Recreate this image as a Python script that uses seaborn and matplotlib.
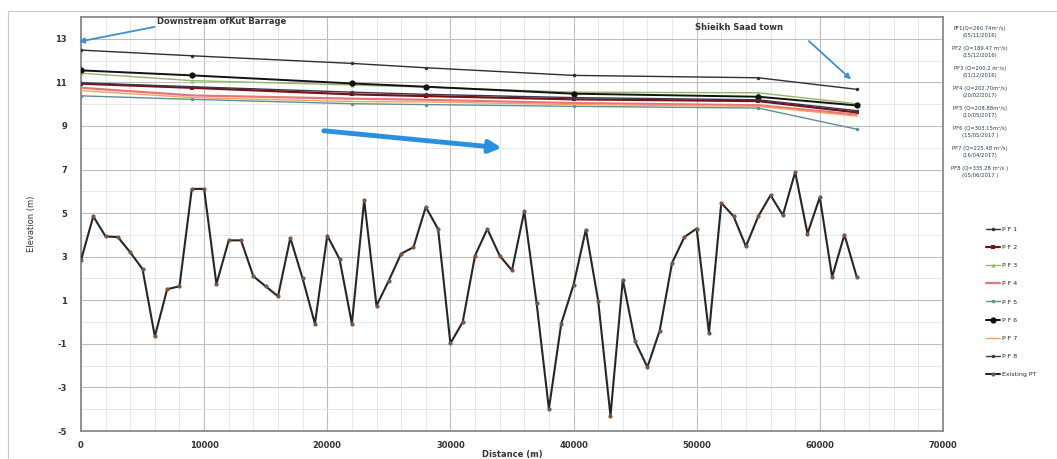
import matplotlib
matplotlib.use("Agg")
import matplotlib.pyplot as plt
import numpy as np
import pandas as pd
import seaborn as sns
from matplotlib.patches import Rectangle
from matplotlib.ticker import MultipleLocator

# ---------------------------------------------------------------------------
# Data
# ---------------------------------------------------------------------------

# water surface profiles: stations where the profiles carry markers
ws_distance = [0, 9000, 22000, 28000, 40000, 55000, 63000]

pf1 = [12.48, 12.22, 11.87, 11.67, 11.32, 11.21, 10.68]
pf2 = [10.94, 10.75, 10.45, 10.37, 10.22, 10.14, 9.62]
pf3 = [11.42, 11.08, 10.88, 10.78, 10.55, 10.52, 10.02]
pf4 = [10.75, 10.40, 10.25, 10.20, 10.05, 9.95, 9.52]
pf5 = [10.38, 10.22, 10.02, 9.98, 9.90, 9.82, 8.85]
pf6 = [11.55, 11.32, 10.95, 10.80, 10.48, 10.34, 9.94]
pf7 = [10.62, 10.30, 10.12, 10.10, 9.98, 9.90, 9.45]
pf8 = [10.98, 10.80, 10.55, 10.45, 10.30, 10.20, 9.70]

# existing river bed, one survey point every 1000 m
bed_distance = list(range(0, 64000, 1000))
bed_level = [
    2.83, 4.85, 3.93, 3.90, 3.20, 2.43, -0.66, 1.51, 1.64, 6.11,
    6.11, 1.74, 3.75, 3.75, 2.10, 1.64, 1.18, 3.86, 2.00, -0.08,
    3.97, 2.89, -0.08, 5.59, 0.75, 1.90, 3.14, 3.43, 5.28, 4.27,
    -0.98, 0.00, 3.05, 4.27, 3.05, 2.37, 5.08, 0.87, -3.99, -0.08,
    1.71, 4.24, 0.98, -4.30, 1.94, -0.89, -2.07, -0.39, 2.71, 3.90,
    4.29, -0.51, 5.47, 4.85, 3.47, 4.85, 5.82, 4.90, 6.88, 4.06,
    5.73, 2.07, 4.01, 2.07,
]

profile_labels = ["P F 1", "P F 2", "P F 3", "P F 4", "P F 5", "P F 6", "P F 7", "P F 8"]
bed_label = "Existing PT"

flow_notes = [
    "PF1(Q=260.74m\u00b3/s)\n(05/11/2016)",
    "PF2 (Q=189.47 m\u00b3/s)\n(15/12/2016)",
    "PF3 (Q=200.2 m\u00b3/s)\n(01/12/2016)",
    "PF4 (Q=202.70m\u00b3/s)\n(20/02/2017)",
    "PF5 (Q=208.88m\u00b3/s)\n(10/05/2017)",
    "PF6 (Q=303.15m\u00b3/s)\n(15/05/2017 )",
    "PF7 (Q=225.48 m\u00b3/s)\n(16/04/2017)",
    "PF8 (Q=335.28 m\u00b3/s )\n(05/06/2017 )",
]

# ---------------------------------------------------------------------------
# Figure
# ---------------------------------------------------------------------------

sns.set_style("white")
plt.rcParams["font.family"] = ["DejaVu Sans"]
plt.rcParams["axes.unicode_minus"] = False

fig = plt.figure(figsize=(10.57, 4.59), dpi=100)
ax = fig.add_axes([0.0766, 0.061, 0.8155, 0.902])

# outer chart frame
fig.patches.append(Rectangle((0.008, -0.01), 0.995, 0.985, transform=fig.transFigure,
                             fill=False, edgecolor="#c8c8c8", linewidth=0.8))

ws = pd.DataFrame({"distance": ws_distance})
for lab, vals in zip(profile_labels, [pf1, pf2, pf3, pf4, pf5, pf6, pf7, pf8]):
    ws[lab] = vals

styles = {
    "P F 1": dict(color="#2f2f2f", marker="o", markersize=2.5, lw=1.0),
    "P F 2": dict(color="#7a1010", marker="s", markersize=3.5, lw=1.6),
    "P F 3": dict(color="#8fb86a", marker="^", markersize=3, lw=1.0),
    "P F 4": dict(color="#e8747c", marker="", markersize=0, lw=1.6),
    "P F 5": dict(color="#5f8f95", marker="o", markersize=2.5, lw=1.0),
    "P F 6": dict(color="#111111", marker="o", markersize=4.5, lw=1.4),
    "P F 7": dict(color="#f2a35e", marker="", markersize=0, lw=1.0),
    "P F 8": dict(color="#3a3550", marker="o", markersize=2.5, lw=1.0),
}

for lab in profile_labels:
    st = styles[lab]
    sns.lineplot(data=ws, x="distance", y=lab, ax=ax, label=lab, sort=False,
                 color=st["color"], linewidth=st["lw"], marker=st["marker"] or None,
                 markersize=st["markersize"], markeredgewidth=0, zorder=3)

bed = pd.DataFrame({"distance": bed_distance, "level": bed_level})
sns.lineplot(data=bed, x="distance", y="level", ax=ax, label=bed_label, sort=False,
             color="#262626", linewidth=1.5, marker="o", markersize=3,
             markerfacecolor="#7a5544", markeredgewidth=0, zorder=4)

# axes, grid
ax.set_xlim(0, 70000)
ax.set_ylim(-5, 14)
ax.xaxis.set_major_locator(MultipleLocator(10000))
ax.xaxis.set_minor_locator(MultipleLocator(2000))
ax.set_yticks(np.arange(-5, 14, 2))
ax.yaxis.set_minor_locator(MultipleLocator(1))
ax.grid(which="major", color="#bdbdbd", linewidth=0.8)
ax.grid(which="minor", color="#e3e3e3", linewidth=0.6)
ax.set_axisbelow(True)
for sp in ax.spines.values():
    sp.set_color("#8a8a8a")
    sp.set_linewidth(1.3)
ax.tick_params(axis="y", which="both", length=0, labelsize=6, pad=10)
ax.tick_params(axis="x", which="both", length=0, labelsize=6, pad=7)
for t in ax.get_xticklabels() + ax.get_yticklabels():
    t.set_fontweight("bold")
    t.set_color("#333333")
ax.set_xlabel("Distance (m)", fontsize=6, fontweight="bold", color="#333333", labelpad=0)
ax.set_ylabel("Elevation (m)", fontsize=6, color="#333333", labelpad=14)

# annotations
ax.annotate("", xy=(-400, 12.84), xytext=(6200, 13.57), annotation_clip=False,
            arrowprops=dict(arrowstyle="-|>", color="#3b8fd6", lw=1.3, mutation_scale=8))
ax.text(6200, 13.78, "Downstream ofKut Barrage", fontsize=6, fontweight="bold",
        color="#333333", ha="left", va="center")

ax.text(53400, 13.53, "Shieikh Saad town", fontsize=6, fontweight="bold",
        color="#333333", ha="center", va="center")
ax.annotate("", xy=(62700, 11.05), xytext=(58950, 12.98),
            arrowprops=dict(arrowstyle="-|>", color="#3b8fd6", lw=1.3, mutation_scale=8))

ax.annotate("", xy=(34400, 7.98), xytext=(19500, 8.79),
            arrowprops=dict(arrowstyle="-|>", color="#2a8fe0", lw=3.5, mutation_scale=18))

# flow notes in the right-hand panel
for i, note in enumerate(flow_notes):
    fig.text(0.927, 1 - (32 + 20 * i) / 459, note, fontsize=3.8, color="#2f3a55",
             ha="center", va="center", linespacing=1.3)

leg = ax.legend(loc="upper left", bbox_to_anchor=(1.047, 0.5), frameon=False,
                fontsize=4.5, handlelength=2.2, handletextpad=0.3, labelspacing=2.05,
                borderaxespad=0)

fig.savefig("out.png", dpi=100)
